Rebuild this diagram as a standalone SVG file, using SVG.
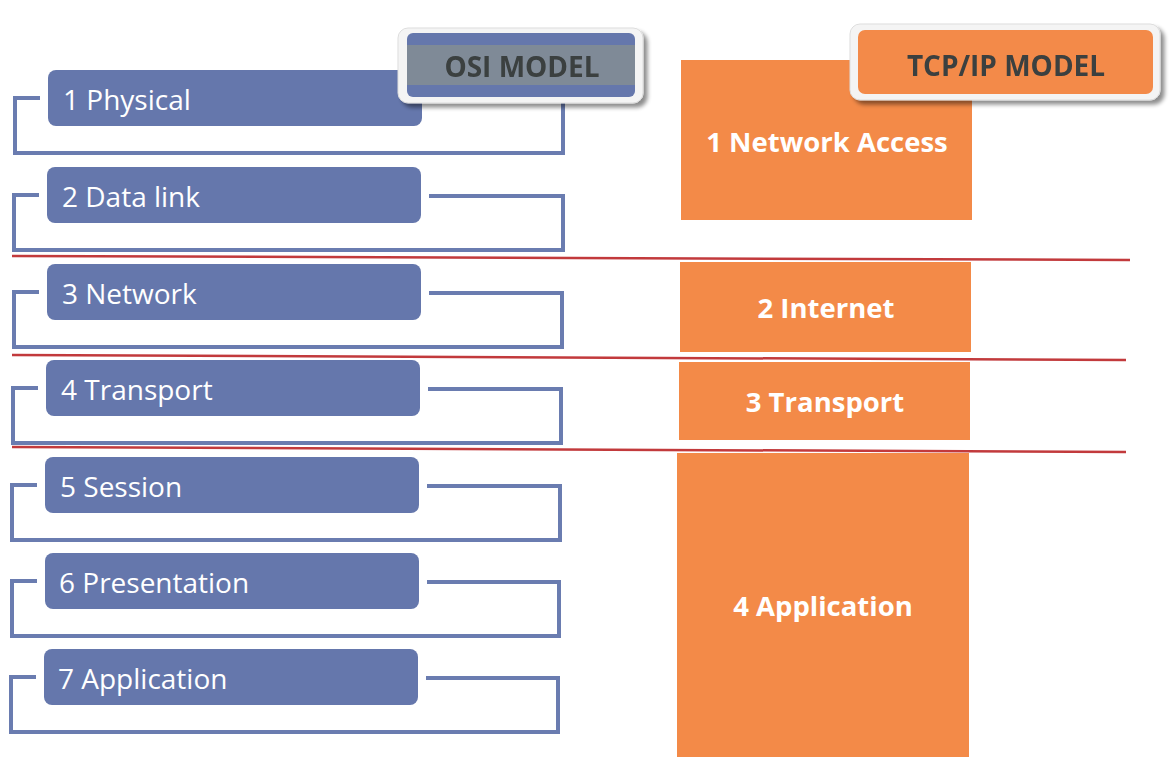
<svg xmlns="http://www.w3.org/2000/svg" width="1171" height="766" viewBox="0 0 1171 766">
<defs>
<style>
.box{fill:#6577ac}
.br{fill:none;stroke:#6a7cb0;stroke-width:4;stroke-linejoin:miter}
.lt{font-family:"Open Sans","Liberation Sans",sans-serif;font-size:28px;fill:#ffffff}
.or{fill:#f38a48}
.ot{font-family:"Open Sans","Liberation Sans",sans-serif;font-size:27.5px;font-weight:bold;fill:#ffffff;text-anchor:middle}
.ht{font-family:"Open Sans","Liberation Sans",sans-serif;font-size:28px;font-weight:bold;fill:#3a3f3f;text-anchor:middle}
.red{stroke:#c23a3c;stroke-width:2.5}
</style>
<filter id="sh" x="-10%" y="-20%" width="125%" height="150%">
<feGaussianBlur in="SourceAlpha" stdDeviation="2"/>
<feOffset dx="4" dy="4"/>
<feComponentTransfer><feFuncA type="linear" slope="0.45"/></feComponentTransfer>
<feMerge><feMergeNode/><feMergeNode in="SourceGraphic"/></feMerge>
</filter>
</defs>
<rect width="1171" height="766" fill="#ffffff"/>

<g id="connectors">
<path class="br" d="M40,98 H15 V153 H563 V99 H430"/>
<path class="br" d="M39,195 H14 V250 H563 V196 H429"/>
<path class="br" d="M39,292 H14 V347 H562 V293 H429"/>
<path class="br" d="M38,388 H13 V443 H561 V389 H428"/>
<path class="br" d="M37,485 H12 V540 H560 V486 H427"/>
<path class="br" d="M37,581 H12 V636 H559 V582 H427"/>
<path class="br" d="M36,677 H11 V732 H558 V678 H426"/>
</g>

<g id="osi-1"><rect class="box" x="48" y="70" width="374" height="56" rx="8"/><text class="lt" x="63" y="110">1 Physical</text></g>
<g id="osi-2"><rect class="box" x="47" y="167" width="374" height="56" rx="8"/><text class="lt" x="62" y="207">2 Data link</text></g>
<g id="osi-3"><rect class="box" x="47" y="264" width="374" height="56" rx="8"/><text class="lt" x="62" y="304">3 Network</text></g>
<g id="osi-4"><rect class="box" x="46" y="360" width="374" height="56" rx="8"/><text class="lt" x="61" y="400">4 Transport</text></g>
<g id="osi-5"><rect class="box" x="45" y="457" width="374" height="56" rx="8"/><text class="lt" x="60" y="497">5 Session</text></g>
<g id="osi-6"><rect class="box" x="45" y="553" width="374" height="56" rx="8"/><text class="lt" x="59" y="593">6 Presentation</text></g>
<g id="osi-7"><rect class="box" x="44" y="649" width="374" height="56" rx="8"/><text class="lt" x="58" y="689">7 Application</text></g>

<g id="osi-header" filter="url(#sh)">
<rect x="398" y="28" width="245" height="75" rx="10" fill="#f4f4f4" stroke="#dddddd" stroke-width="1"/>
<rect x="407" y="33" width="228" height="64" rx="6" fill="#6577ac"/>
<rect x="407" y="45" width="228" height="40" fill="#7f8a97"/>
<text class="ht" x="522" y="77">OSI MODEL</text>
</g>

<g id="tcp-1"><rect class="or" x="681" y="60" width="291" height="160"/><text class="ot" x="827" y="152">1 Network Access</text></g>
<g id="tcp-2"><rect class="or" x="680" y="262" width="291" height="90"/><text class="ot" x="826" y="318">2 Internet</text></g>
<g id="tcp-3"><rect class="or" x="679" y="362" width="291" height="78"/><text class="ot" x="825" y="412">3 Transport</text></g>
<g id="tcp-4"><rect class="or" x="677" y="453" width="292" height="304"/><text class="ot" x="823" y="616">4 Application</text></g>

<g id="tcp-header" filter="url(#sh)">
<rect x="850" y="24" width="310" height="76" rx="10" fill="#f4f4f4" stroke="#dddddd" stroke-width="1"/>
<rect x="858" y="30" width="295" height="64" rx="7" fill="#f38a48"/>
<text class="ht" x="1006" y="76" font-size="30">TCP/IP MODEL</text>
</g>

<g id="dividers">
<line class="red" x1="12" y1="256" x2="1130" y2="260"/>
<line class="red" x1="12" y1="355" x2="1126" y2="360"/>
<line class="red" x1="12" y1="447" x2="1126" y2="452"/>
</g>
</svg>
